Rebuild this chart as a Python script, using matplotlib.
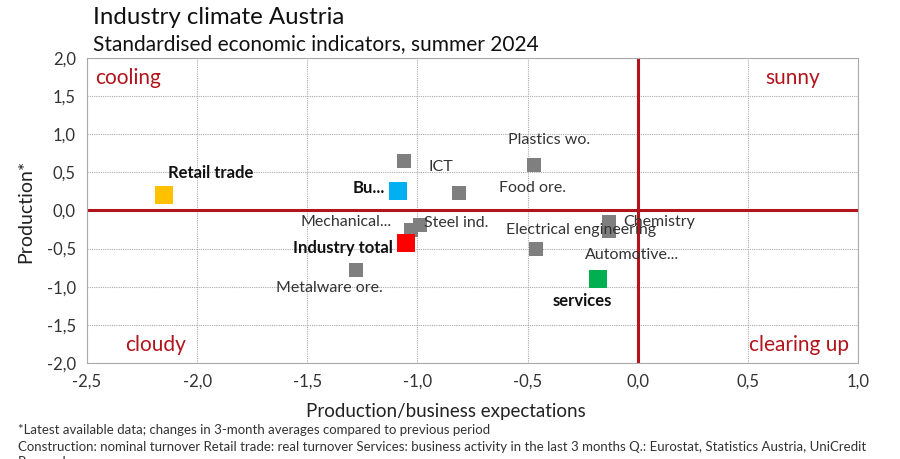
import matplotlib
matplotlib.use("Agg")
import matplotlib.pyplot as plt
from matplotlib.ticker import FuncFormatter

plt.rcParams['font.family'] = ['Lato', 'DejaVu Sans']

# ---- data ----
labels = ["Retail trade", "Bu...", "ICT", "Plastics wo.", "Food ore.", "Mechanical...",
          "Steel ind.", "Industry total", "Metalware ore.", "Electrical engineering",
          "Chemistry", "Automotive...", "services"]
x_vals = [-2.15, -1.09, -1.06, -0.47, -0.81, -1.03, -0.99, -1.05, -1.28, -0.46, -0.13, -0.13, -0.18]
y_vals = [0.20, 0.26, 0.65, 0.60, 0.23, -0.26, -0.19, -0.43, -0.78, -0.50, -0.15, -0.27, -0.90]
highlight = ["Retail trade", "Bu...", "Industry total", "services"]
colors_map = {"Retail trade": "#FFC000", "Bu...": "#00B0F0", "Industry total": "#FF0000", "services": "#00B050"}
x_ticks = [-2.5, -2.0, -1.5, -1.0, -0.5, 0.0, 0.5, 1.0]
y_ticks = [-2.0, -1.5, -1.0, -0.5, 0.0, 0.5, 1.0, 1.5, 2.0]

# label offsets in pixels (dx right, dy down) and alignment
label_pos = {
    "Retail trade": (4, -22, "left"),
    "Bu...": (-13, -3, "right"),
    "ICT": (24, 6, "left"),
    "Plastics wo.": (15, -25, "center"),
    "Food ore.": (40, -5, "left"),
    "Mechanical...": (-19, -8, "right"),
    "Steel ind.": (4, -2, "left"),
    "Industry total": (-14, 5, "right"),
    "Metalware ore.": (-26, 18, "center"),
    "Electrical engineering": (-30, -19, "left"),
    "Chemistry": (14, 0, "left"),
    "Automotive...": (-24, 24, "left"),
    "services": (-16, 22, "center"),
}

RED = "#B2141C"

fig = plt.figure(figsize=(9, 4.59), dpi=100)
ax = fig.add_axes([87/900, 1-363/459, (858-87)/900, (363-58)/459])

ax.set_xlim(-2.5, 1.0)
ax.set_ylim(-2.0, 2.0)
ax.set_xticks(x_ticks)
ax.set_yticks(y_ticks)
fmt = FuncFormatter(lambda v, p: f"{v:.1f}".replace(".", ","))
ax.xaxis.set_major_formatter(fmt)
ax.yaxis.set_major_formatter(fmt)
ax.tick_params(length=0, labelsize=12, colors="#333333", pad=8)
ax.grid(True, color="#aaaaaa", linestyle=(0, (1, 1)), linewidth=0.8)
ax.set_axisbelow(True)
for s in ax.spines.values():
    s.set_color("#aaaaaa")
    s.set_linestyle((0, (1, 1)))
    s.set_linewidth(0.8)

ax.axhline(0, color=RED, linewidth=2.2, zorder=2)
ax.axvline(0, color=RED, linewidth=2.2, zorder=2)

for lab, xv, yv in zip(labels, x_vals, y_vals):
    if lab in highlight:
        ax.scatter([xv], [yv], marker="s", s=150, color=colors_map[lab], zorder=3, linewidths=0)
    else:
        ax.scatter([xv], [yv], marker="s", s=88, color="#7F7F7F", zorder=3, linewidths=0)
    dx, dy, ha = label_pos[lab]
    bold = lab in highlight
    ax.annotate(lab, (xv, yv), xytext=(dx*0.72, -dy*0.72), textcoords="offset points",
                ha=ha, va="center", fontsize=12 if bold else 11.5,
                fontweight="bold" if bold else "normal",
                color="#111111" if bold else "#333333", zorder=4)

# quadrant labels (pixel anchors)
def px(xp, yp):
    return xp/900, 1-yp/459
qfs = 15
fig.text(*px(95, 78), "cooling", color=RED, fontsize=qfs, ha="left", va="center")
fig.text(*px(820, 78), "sunny", color=RED, fontsize=qfs, ha="right", va="center")
fig.text(*px(125, 345), "cloudy", color=RED, fontsize=qfs, ha="left", va="center")
fig.text(*px(849, 345), "clearing up", color=RED, fontsize=qfs, ha="right", va="center")

fig.text(*px(446, 411), "Production/business expectations", fontsize=13.5, color="#222222", ha="center", va="center")
fig.text(*px(26, 211), "Production*", fontsize=14, color="#222222", ha="center", va="center", rotation=90)

fig.text(*px(93, 17), "Industry climate Austria", fontsize=17.3, color="#111111", ha="left", va="center")
fig.text(*px(93, 44), "Standardised economic indicators, summer 2024", fontsize=15, color="#111111", ha="left", va="center")

foot1 = "*Latest available data; changes in 3-month averages compared to previous period"
foot2 = ("Construction: nominal turnover Retail trade: real turnover Services: business activity "
         "in the last 3 months Q.: Eurostat, Statistics Austria, UniCredit")
t1 = fig.text(*px(18, 430), foot1, fontsize=10, color="#333333", ha="left", va="center")
t2 = fig.text(*px(18, 447), foot2, fontsize=10, color="#333333", ha="left", va="center")
t3 = fig.text(*px(18, 462), "Research", fontsize=10, color="#333333", ha="left", va="center")

# fit footnote width to reference (line 2 spans ~850 px)
fig.canvas.draw()
r = fig.canvas.get_renderer()
w2 = t2.get_window_extent(r).width
fs = 10 * 850 / w2
for t in (t1, t2, t3):
    t.set_fontsize(fs)

fig.savefig("out.png", dpi=100)
